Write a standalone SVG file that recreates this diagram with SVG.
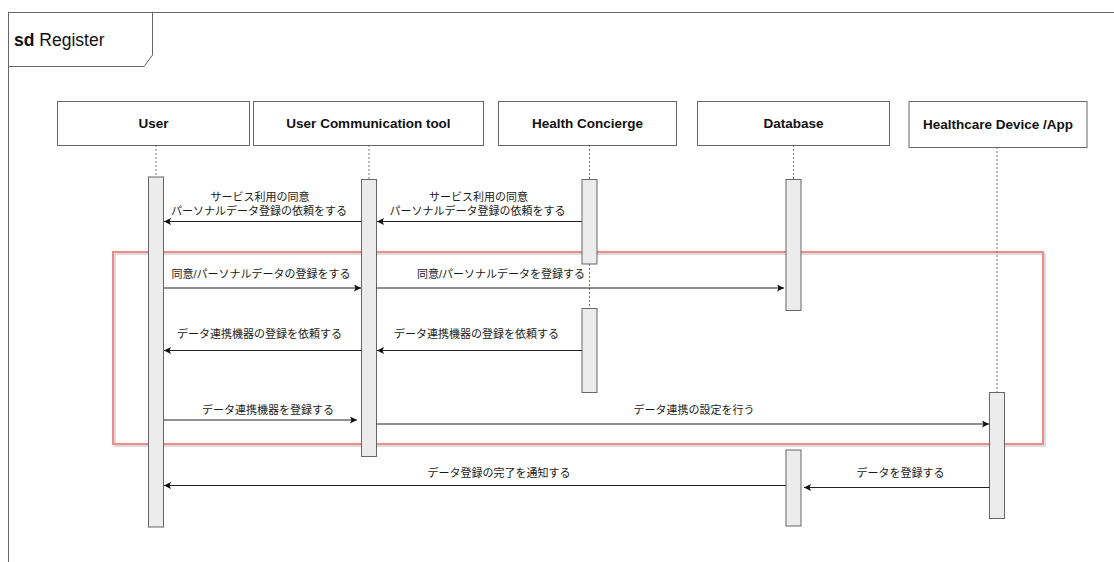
<svg xmlns="http://www.w3.org/2000/svg" width="1114" height="562" viewBox="0 0 1114 562">
  <style>
    .frame { fill: none; stroke: #666; stroke-width: 1; }
    .head rect.box { fill: #fff; stroke: #666; stroke-width: 1; }
    .head text { font-family: "Liberation Sans", Arial, sans-serif; font-size: 13.5px; font-weight: bold; fill: #111; text-anchor: middle; }
    .life { stroke: #777; stroke-width: 1; stroke-dasharray: 2 2; fill: none; }
    .head rect.bar { fill: #ececec; stroke: #666; stroke-width: 1; }
    .msg line { stroke: #222; stroke-width: 1; marker-end: url(#arrow); }
    .lbl { font-family: "Liberation Sans", "Noto Sans CJK JP", sans-serif; font-size: 11px; fill: #1a1a1a; text-anchor: middle; }
  </style>
  <defs>
    <marker id="arrow" markerUnits="userSpaceOnUse" markerWidth="8" markerHeight="8" refX="7" refY="3.5" orient="auto">
      <path d="M0,0 L7,3.5 L0,7 L1.5,3.5 z" fill="#111"/>
    </marker>
  </defs>

  <rect width="1114" height="562" fill="#fff"/>

  <!-- sequence diagram frame -->
  <g id="frame">
    <rect class="frame" x="8.5" y="12.5" width="1200" height="600"/>
    <path class="frame" d="M8.5,12.5 H152.5 V55 L144,66.5 H8.5"/>
    <text x="14" y="46" font-family="Liberation Sans, Arial, sans-serif" font-size="17.5" fill="#111"><tspan font-weight="bold">sd</tspan> Register</text>
  </g>

  <!-- highlighted region -->
  <g id="highlight">
    <rect x="115" y="254" width="930" height="192" fill="none" stroke="#dcdcdc" stroke-width="2"/>
    <rect x="113" y="252" width="930" height="192" fill="none" stroke="#ef8a8a" stroke-width="2"/>
  </g>

  <!-- lifelines -->
  <g id="lifelines">
    <line class="life" x1="156" y1="145" x2="156" y2="177"/>
    <line class="life" x1="369" y1="145" x2="369" y2="179.5"/>
    <line class="life" x1="589.5" y1="145" x2="589.5" y2="179.5"/>
    <line class="life" x1="589.5" y1="264" x2="589.5" y2="308.5"/>
    <line class="life" x1="793.5" y1="145" x2="793.5" y2="179.5"/>
    <line class="life" x1="997" y1="147" x2="997" y2="392.5"/>
  </g>

  <!-- participants -->
  <g id="user" class="head">
    <rect class="box" x="57.5" y="101.5" width="192" height="44"/>
    <text x="153.5" y="128">User</text>
    <rect class="bar" x="148.5" y="177" width="15" height="350"/>
  </g>
  <g id="user-communication-tool" class="head">
    <rect class="box" x="253.5" y="101.5" width="230" height="44"/>
    <text x="368.5" y="128">User Communication tool</text>
    <rect class="bar" x="361.5" y="179.5" width="15" height="277"/>
  </g>
  <g id="health-concierge" class="head">
    <rect class="box" x="498.5" y="101.5" width="178" height="44"/>
    <text x="587.5" y="128">Health Concierge</text>
    <rect class="bar" x="582" y="179.5" width="15" height="84.5"/>
    <rect class="bar" x="582" y="308.5" width="15" height="84"/>
  </g>
  <g id="database" class="head">
    <rect class="box" x="697.5" y="101.5" width="192" height="44"/>
    <text x="793.5" y="128">Database</text>
    <rect class="bar" x="786" y="179.5" width="15" height="131"/>
    <rect class="bar" x="786" y="450" width="15" height="76"/>
  </g>
  <g id="healthcare-device" class="head">
    <rect class="box" x="909" y="101.5" width="178" height="46"/>
    <text x="998" y="129">Healthcare Device /App</text>
    <rect class="bar" x="989.5" y="392.5" width="15" height="126"/>
  </g>

  <!-- messages -->
  <g id="connectors" class="msg">
    <line x1="582" y1="221.5" x2="377" y2="221.5"/>
    <line x1="361.5" y1="221.5" x2="164" y2="221.5"/>
    <line x1="164" y1="288" x2="361" y2="288"/>
    <line x1="376.5" y1="288" x2="784" y2="288"/>
    <line x1="582" y1="350.5" x2="377" y2="350.5"/>
    <line x1="361.5" y1="350.5" x2="164" y2="350.5"/>
    <line x1="164" y1="420" x2="357" y2="420"/>
    <line x1="376.5" y1="424" x2="989" y2="424"/>
    <line x1="989.5" y1="487.5" x2="804" y2="487.5"/>
    <line x1="786" y1="485.5" x2="164" y2="485.5"/>
  </g>

  <!-- message labels -->
  <g id="labels">
    <text class="lbl" x="260" y="201">サービス利用の同意</text>
    <text class="lbl" x="259" y="214.5">パーソナルデータ登録の依頼をする</text>
    <text class="lbl" x="478.5" y="201">サービス利用の同意</text>
    <text class="lbl" x="477.5" y="214.5">パーソナルデータ登録の依頼をする</text>
    <text class="lbl" x="261" y="277.5">同意/パーソナルデータの登録をする</text>
    <text class="lbl" x="501" y="277.5">同意/パーソナルデータを登録する</text>
    <text class="lbl" x="259.5" y="338">データ連携機器の登録を依頼する</text>
    <text class="lbl" x="476.5" y="338">データ連携機器の登録を依頼する</text>
    <text class="lbl" x="268" y="414">データ連携機器を登録する</text>
    <text class="lbl" x="694" y="413.5">データ連携の設定を行う</text>
    <text class="lbl" x="900.5" y="476.5">データを登録する</text>
    <text class="lbl" x="499" y="477">データ登録の完了を通知する</text>
  </g>
</svg>
